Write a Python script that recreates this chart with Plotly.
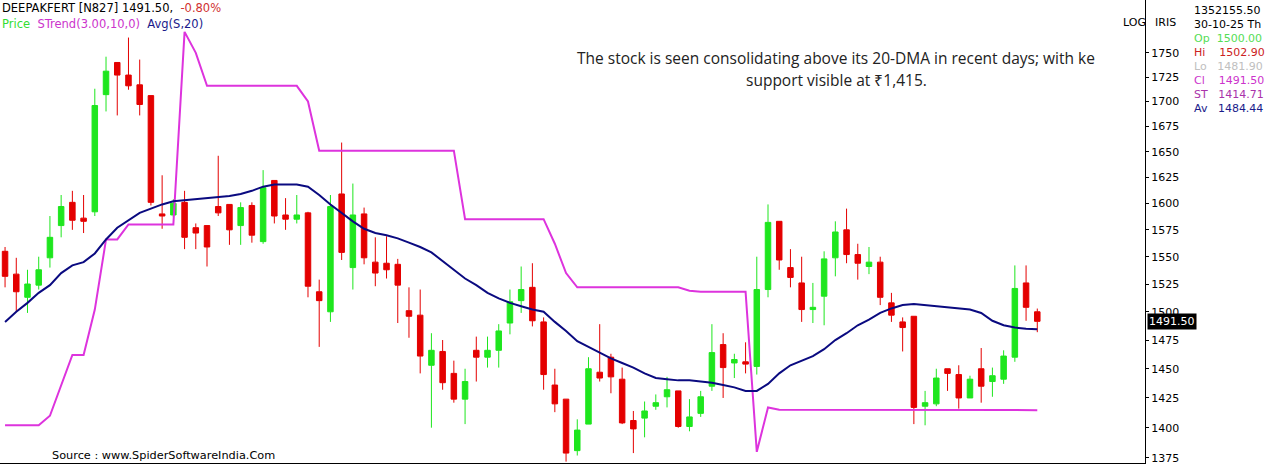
import plotly.graph_objects as go

# daily OHLC (candle 1 = oldest, 93 = 30-10-25)
opens = [1555, 1534, 1513, 1524, 1549, 1579, 1601, 1586, 1592, 1707, 1740, 1727, 1717, 1706, 1590, 1589,
         1601, 1577, 1579, 1597, 1599, 1579, 1598, 1564, 1622, 1589, 1585, 1591, 1518, 1500, 1609, 1540,
         1590, 1545, 1544, 1543, 1501, 1497, 1453, 1465, 1446, 1424, 1466, 1460, 1466, 1490, 1510, 1522,
         1491, 1436, 1424, 1381, 1403, 1447, 1460, 1441, 1406, 1408, 1418, 1426, 1431, 1401, 1412, 1435,
         1471, 1455, 1456, 1452, 1520, 1583, 1540, 1526, 1502, 1514, 1549, 1575, 1552, 1541, 1545, 1508,
         1491, 1496, 1418, 1420, 1450, 1445, 1425, 1450, 1439, 1441, 1460, 1526, 1500.00]
highs = [1559, 1549, 1538, 1550, 1588, 1608, 1612, 1608, 1713, 1746, 1740, 1766, 1743, 1706, 1627, 1604,
         1612, 1581, 1579, 1646, 1599, 1601, 1601, 1632, 1622, 1605, 1608, 1592, 1529, 1608, 1659, 1619,
         1596, 1568, 1569, 1548, 1522, 1520, 1481, 1475, 1457, 1450, 1478, 1478, 1489, 1520, 1541, 1544,
         1495, 1450, 1424, 1407, 1460, 1489, 1463, 1451, 1414, 1422, 1428, 1443, 1431, 1424, 1431, 1489,
         1481, 1463, 1473, 1550, 1599, 1583, 1557, 1550, 1526, 1555, 1583, 1595, 1562, 1559, 1550, 1517,
         1495, 1496, 1431, 1450, 1450, 1453, 1444, 1468, 1451, 1466, 1542, 1542, 1502.90]
lows = [1522, 1500, 1499, 1520, 1540, 1568, 1575, 1572, 1588, 1690, 1686, 1712, 1686, 1598, 1576, 1587,
        1557, 1557, 1541, 1588, 1561, 1561, 1563, 1562, 1581, 1575, 1581, 1513, 1469, 1491, 1547, 1520,
        1543, 1523, 1530, 1490, 1477, 1446, 1400, 1432, 1421, 1403, 1439, 1451, 1451, 1480, 1499, 1487,
        1432, 1413, 1372, 1377, 1403, 1439, 1429, 1403, 1379, 1392, 1415, 1417, 1400, 1397, 1409, 1431,
        1425, 1442, 1446, 1445, 1513, 1538, 1522, 1491, 1490, 1488, 1532, 1544, 1529, 1534, 1506, 1491,
        1465, 1403, 1402, 1418, 1431, 1416, 1425, 1421, 1426, 1437, 1456, 1492, 1481.90]
closes = [1532, 1518, 1525, 1538, 1568, 1597, 1584, 1583, 1696, 1731, 1727, 1716, 1697, 1601, 1588, 1600,
          1568, 1572, 1559, 1591, 1575, 1596, 1570, 1615, 1588, 1585, 1589, 1523, 1510, 1597, 1554, 1589,
          1549, 1535, 1538, 1524, 1496, 1461, 1466, 1438, 1424, 1439, 1460, 1466, 1483, 1509, 1520, 1492,
          1445, 1420, 1379, 1398, 1450, 1442, 1443, 1404, 1399, 1414, 1421, 1432, 1401, 1409, 1426, 1464,
          1451, 1458, 1454, 1520, 1582, 1547, 1531, 1502, 1504, 1548, 1573, 1552, 1544, 1545, 1513, 1497,
          1486, 1417, 1421, 1442, 1446, 1425, 1441, 1435, 1444, 1461, 1521, 1504, 1491.50]

# SuperTrend(3,10) and 20-day average, read per candle
strend = [1402, 1402, 1402, 1402, 1410, 1435, 1462, 1462, 1502, 1566, 1566, 1580, 1580, 1580, 1580, 1580,
          1772, 1750, 1716, 1716, 1716, 1716, 1716, 1716, 1716, 1716, 1716, 1700, 1651, 1651, 1651, 1651,
          1651, 1651, 1651, 1651, 1651, 1651, 1651, 1651, 1651, 1585, 1585, 1585, 1585, 1585, 1585, 1585,
          1585, 1562, 1535, 1522, 1522, 1522, 1522, 1522, 1522, 1522, 1522, 1522, 1522, 1519, 1518, 1518,
          1518, 1518, 1518, 1380, 1417, 1415, 1415, 1415, 1415, 1415, 1415, 1415, 1415, 1415, 1415, 1415,
          1415, 1415, 1415, 1415, 1415, 1415, 1415, 1415, 1415, 1415, 1415, 1415, 1414.71]
avg20 = [1491, 1500, 1508, 1517, 1524, 1535, 1542, 1545, 1553, 1566, 1577, 1584, 1591, 1595, 1599, 1602,
         1603, 1604, 1605, 1606, 1607, 1609, 1612, 1616, 1618, 1618, 1618, 1616, 1608, 1599, 1591, 1583,
         1576, 1572, 1570, 1567, 1563, 1559, 1554, 1546, 1538, 1530, 1524, 1517, 1512, 1508, 1505, 1502,
         1500, 1491, 1483, 1474, 1469, 1464, 1459, 1455, 1451, 1446, 1442, 1441, 1440, 1440, 1439, 1438,
         1436, 1434, 1431, 1431, 1437, 1446, 1453, 1457, 1461, 1467, 1475, 1481, 1488, 1493, 1499, 1503,
         1506, 1507, 1506, 1505, 1504, 1503, 1502, 1499, 1492, 1488, 1486, 1485, 1484.44]

x = list(range(1, len(closes) + 1))
yticks = list(range(1375, 1751, 25))

GREEN, RED, MAG, NAVY = "#1ee61e", "#e40000", "#dd33dd", "#0a0a80"
FONT = "DejaVu Sans"

fig = go.Figure()
fig.add_trace(go.Scatter(x=x, y=strend, mode="lines", line=dict(color=MAG, width=2)))
fig.add_trace(go.Scatter(x=x, y=avg20, mode="lines", line=dict(color=NAVY, width=2)))
fig.add_trace(go.Candlestick(
    x=x, open=opens, high=highs, low=lows, close=closes,
    increasing=dict(line=dict(color=GREEN, width=1), fillcolor=GREEN),
    decreasing=dict(line=dict(color=RED, width=1), fillcolor=RED),
    whiskerwidth=0,
))

fig.update_layout(
    width=1266, height=473, showlegend=False,
    paper_bgcolor="white", plot_bgcolor="white",
    margin=dict(l=0, r=121, t=0, b=10),
    font=dict(family=FONT, size=11, color="black"),
    xaxis=dict(range=[0.55, 102.6], showgrid=False, showticklabels=False, zeroline=False,
               rangeslider=dict(visible=False), showline=True, linecolor="black", linewidth=1),
    yaxis=dict(type="log", range=[3.1370, 3.2567], side="right", tickvals=yticks,
               ticks="outside", ticklen=3, tickcolor="black", showgrid=False, zeroline=False,
               showline=True, linecolor="black", linewidth=1,
               tickfont=dict(family=FONT, size=11, color="black")),
)

ann = []
def txt(xp, yp, s, color="black", size=11, xanchor="left", fam=FONT, **kw):
    ann.append(dict(x=xp, y=yp, xref="paper", yref="paper", text=s, showarrow=False,
                    xanchor=xanchor, yanchor="middle", font=dict(family=fam, size=size, color=color), **kw))

def px(xpix, ypix):
    return xpix / 1145, 1 - ypix / 463

txt(*px(0, 8), "DEEPAKFERT [N827] 1491.50,  <span style='color:#d03030'>-0.80%</span>", size=11.5)
txt(*px(0, 24), "<span style='color:#33dd33'>Price</span>  <span style='color:#cc33cc'>STrend(3.00,10,0)</span>"
    "  <span style='color:#1a1a8a'>Avg(S,20)</span>", size=11.5)
txt(*px(836, 58), "The stock is seen consolidating above its 20-DMA in recent days; with ke",
    color="#222222", size=15.5, xanchor="center", fam="Open Sans")
txt(*px(836, 80), "support visible at ₹1,415.", color="#222222", size=15.5, xanchor="center", fam="Open Sans")
txt(*px(50, 455), "Source : www.SpiderSoftwareIndia.Com", size=11.3)
txt(*px(1121, 23), "LOG")
txt(*px(1153, 23), "IRIS")
info = [("1352155.50", "black"), ("30-10-25 Th", "black"), ("Op  1500.00", "#55dd55"),
        ("Hi    1502.90", "#cc2222"), ("Lo   1481.90", "#c0c0c0"), ("Cl    1491.50", "#cc33cc"),
        ("ST   1414.71", "#aa33aa"), ("Av   1484.44", "#1a1a8a")]
for i, (s, c) in enumerate(info):
    txt(*px(1192, 10 + 14.1 * i), s, color=c)
txt(*px(1147, 321), "1491.50", color="white", bgcolor="black", borderpad=1)
fig.update_layout(annotations=ann)

fig.write_html("out.html", config={"displayModeBar": False},
               post_script="document.body.style.margin='0';")
